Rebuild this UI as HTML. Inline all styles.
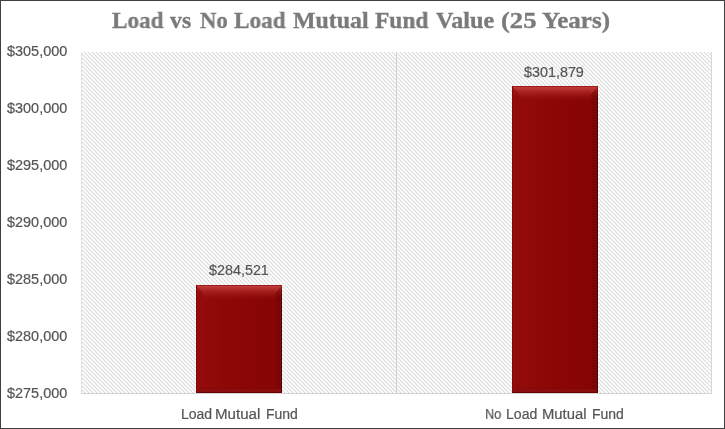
<!DOCTYPE html>
<html><head><meta charset="utf-8">
<style>
html,body{margin:0;padding:0;background:#fff;}
body{width:725px;height:429px;position:relative;overflow:hidden;font-family:"Liberation Sans",sans-serif;}
.frame{position:absolute;left:0;top:0;width:723px;height:427px;border:1px solid #404040;}
.t{position:absolute;white-space:nowrap;line-height:16px;will-change:transform;}
.title{position:absolute;left:0;top:0;will-change:transform;font-family:"Liberation Serif",serif;font-weight:bold;font-size:23.5px;color:#7a7a7a;-webkit-text-stroke:0.35px #7a7a7a;white-space:nowrap;line-height:28px;}
.s{font-size:14px;color:#555555;-webkit-text-stroke:0.2px #555555;}
svg{position:absolute;left:0;top:0;}
</style></head><body>
<svg width="725" height="429" viewBox="0 0 725 429">
<defs>
<pattern id="hatch" patternUnits="userSpaceOnUse" width="4" height="4">
<path d="M-1,-1 L5,5 M-1,3 L1,5 M3,-1 L5,1" stroke="#dbdbdb" stroke-width="1.1"/>
</pattern>
<linearGradient id="gMainH" x1="0" y1="0" x2="1" y2="0">
<stop offset="0" stop-color="#880505"/><stop offset="0.06" stop-color="#8c0707"/><stop offset="0.1" stop-color="#930a0a"/><stop offset="0.5" stop-color="#8c0606"/><stop offset="0.92" stop-color="#860505"/><stop offset="1" stop-color="#860505"/>
</linearGradient>
<linearGradient id="gTopOv" x1="0" y1="0" x2="0" y2="1">
<stop offset="0" stop-color="#c03a3a" stop-opacity="1"/><stop offset="0.12" stop-color="#be3838" stop-opacity="1"/><stop offset="0.5" stop-color="#a82020" stop-opacity="0.7"/><stop offset="1" stop-color="#8e0a0a" stop-opacity="0"/>
</linearGradient>
<linearGradient id="gBotOv" x1="0" y1="0" x2="0" y2="1">
<stop offset="0" stop-color="#7a0505" stop-opacity="0"/><stop offset="1" stop-color="#7a0505" stop-opacity="0.6"/>
</linearGradient>
<linearGradient id="gRightH" x1="0" y1="0" x2="1" y2="0">
<stop offset="0" stop-color="#820606"/><stop offset="0.7" stop-color="#780505"/><stop offset="0.8" stop-color="#7a0e0e"/><stop offset="0.88" stop-color="#5a0000"/><stop offset="1" stop-color="#4a0000"/>
</linearGradient>
</defs>
<rect x="81" y="52" width="631" height="341" fill="url(#hatch)"/>
<line x1="81.5" y1="52" x2="81.5" y2="393" stroke="#e0e0e0" stroke-width="1"/>
<line x1="396.5" y1="52" x2="396.5" y2="393" stroke="#d0d0d0" stroke-width="1"/>
<line x1="711.5" y1="52" x2="711.5" y2="393" stroke="#d8d8d8" stroke-width="1"/>
<line x1="81" y1="393.5" x2="712" y2="393.5" stroke="#d4d4d4" stroke-width="1"/>
<linearGradient id="rv196" gradientUnits="userSpaceOnUse" x1="0" y1="285" x2="0" y2="299">
<stop offset="0" stop-color="#c03636" stop-opacity="0.75"/><stop offset="1" stop-color="#8a0808" stop-opacity="0"/>
</linearGradient>
<linearGradient id="lv196" gradientUnits="userSpaceOnUse" x1="0" y1="285" x2="0" y2="299">
<stop offset="0" stop-color="#c03636" stop-opacity="0.6"/><stop offset="1" stop-color="#8a0808" stop-opacity="0"/>
</linearGradient>
<clipPath id="clip196"><rect x="196" y="285" width="86" height="108"/></clipPath>
<g clip-path="url(#clip196)">
<rect x="196" y="285" width="86" height="108" fill="url(#gMainH)"/>
<rect x="196" y="285" width="86" height="16" fill="url(#gTopOv)"/>
<rect x="196" y="386" width="86" height="7" fill="url(#gBotOv)"/>
<polygon points="196,285 203,292 203,386 196,393" fill="#920c0c"/>
<polygon points="196,285 203,292 203,386 196,393" fill="url(#lv196)"/>
<line x1="196.5" y1="285.5" x2="203" y2="292" stroke="#c23a3a" stroke-width="1" stroke-opacity="0.4"/>
<polygon points="282,285 275,292 275,387 282,393" fill="url(#gRightH)"/>
<polygon points="282,285 275,292 275,387 282,393" fill="url(#rv196)"/>
<line x1="281.5" y1="285.5" x2="275" y2="292" stroke="#c23a3a" stroke-width="1.2" stroke-opacity="0.55"/>
<rect x="196" y="285" width="86" height="1" fill="#9e1e1e"/>
<rect x="196" y="285" width="1" height="108" fill="#850707"/>
<rect x="197" y="389" width="84" height="3" fill="#8e1212" fill-opacity="0.6"/>
<rect x="196" y="392" width="86" height="1" fill="#680303"/>
</g>
<linearGradient id="rv512" gradientUnits="userSpaceOnUse" x1="0" y1="86" x2="0" y2="100">
<stop offset="0" stop-color="#c03636" stop-opacity="0.75"/><stop offset="1" stop-color="#8a0808" stop-opacity="0"/>
</linearGradient>
<linearGradient id="lv512" gradientUnits="userSpaceOnUse" x1="0" y1="86" x2="0" y2="100">
<stop offset="0" stop-color="#c03636" stop-opacity="0.6"/><stop offset="1" stop-color="#8a0808" stop-opacity="0"/>
</linearGradient>
<clipPath id="clip512"><rect x="512" y="86" width="86" height="307"/></clipPath>
<g clip-path="url(#clip512)">
<rect x="512" y="86" width="86" height="307" fill="url(#gMainH)"/>
<rect x="512" y="86" width="86" height="16" fill="url(#gTopOv)"/>
<rect x="512" y="386" width="86" height="7" fill="url(#gBotOv)"/>
<polygon points="512,86 519,93 519,386 512,393" fill="#920c0c"/>
<polygon points="512,86 519,93 519,386 512,393" fill="url(#lv512)"/>
<line x1="512.5" y1="86.5" x2="519" y2="93" stroke="#c23a3a" stroke-width="1" stroke-opacity="0.4"/>
<polygon points="598,86 591,93 591,387 598,393" fill="url(#gRightH)"/>
<polygon points="598,86 591,93 591,387 598,393" fill="url(#rv512)"/>
<line x1="597.5" y1="86.5" x2="591" y2="93" stroke="#c23a3a" stroke-width="1.2" stroke-opacity="0.55"/>
<rect x="512" y="86" width="86" height="1" fill="#9e1e1e"/>
<rect x="512" y="86" width="1" height="307" fill="#850707"/>
<rect x="513" y="389" width="84" height="3" fill="#8e1212" fill-opacity="0.6"/>
<rect x="512" y="392" width="86" height="1" fill="#680303"/>
</g>
</svg>
<div class="frame"></div>
<div class="title" style="left:112.2px;top:6.1px;transform:scaleX(0.985);transform-origin:0 0;">Load</div>
<div class="title" style="left:170.3px;top:6.1px;transform:scaleX(1.014);transform-origin:0 0;">vs</div>
<div class="title" style="left:199.5px;top:6.1px;transform:scaleX(0.964);transform-origin:0 0;">No</div>
<div class="title" style="left:233.7px;top:6.1px;transform:scaleX(0.987);transform-origin:0 0;">Load</div>
<div class="title" style="left:292.6px;top:6.1px;transform:scaleX(1.016);transform-origin:0 0;">Mutual</div>
<div class="title" style="left:374.9px;top:6.1px;transform:scaleX(0.996);transform-origin:0 0;">Fund</div>
<div class="title" style="left:436.3px;top:6.1px;transform:scaleX(1.027);transform-origin:0 0;">Value</div>
<div class="title" style="left:501.47px;top:6.1px;transform:scaleX(1.133);transform-origin:0 0;">(25</div>
<div class="title" style="left:542.4px;top:6.1px;transform:scaleX(1.063);transform-origin:0 0;">Years)</div>
<div class="t s" style="left:180.51px;top:406.2px;transform:scaleX(0.993);transform-origin:0 0;">Load</div>
<div class="t s" style="left:215.22px;top:406.2px;transform:scaleX(1.078);transform-origin:0 0;">Mutual</div>
<div class="t s" style="left:265.71px;top:406.2px;transform:scaleX(0.99);transform-origin:0 0;">Fund</div>
<div class="t s" style="left:484.68px;top:406.2px;transform:scaleX(0.918);transform-origin:0 0;">No</div>
<div class="t s" style="left:505.79px;top:406.2px;transform:scaleX(1.007);transform-origin:0 0;">Load</div>
<div class="t s" style="left:541.64px;top:406.2px;transform:scaleX(1.059);transform-origin:0 0;">Mutual</div>
<div class="t s" style="left:591.81px;top:406.2px;transform:scaleX(0.99);transform-origin:0 0;">Fund</div>
<div class="t s" style="left:7.0px;top:43px;transform:scaleX(1.032);transform-origin:0 0;">$305,000</div>
<div class="t s" style="left:7.0px;top:100px;transform:scaleX(1.032);transform-origin:0 0;">$300,000</div>
<div class="t s" style="left:7.0px;top:157px;transform:scaleX(1.032);transform-origin:0 0;">$295,000</div>
<div class="t s" style="left:7.0px;top:214px;transform:scaleX(1.032);transform-origin:0 0;">$290,000</div>
<div class="t s" style="left:7.0px;top:271px;transform:scaleX(1.032);transform-origin:0 0;">$285,000</div>
<div class="t s" style="left:7.0px;top:328px;transform:scaleX(1.032);transform-origin:0 0;">$280,000</div>
<div class="t s" style="left:7.0px;top:385px;transform:scaleX(1.032);transform-origin:0 0;">$275,000</div>
<div class="t s" style="left:209.2px;top:262.3px;transform:scaleX(1.025);transform-origin:0 0;">$284,521</div>
<div class="t s" style="left:524.2px;top:64.4px;transform:scaleX(1.025);transform-origin:0 0;">$301,879</div>
</body></html>
